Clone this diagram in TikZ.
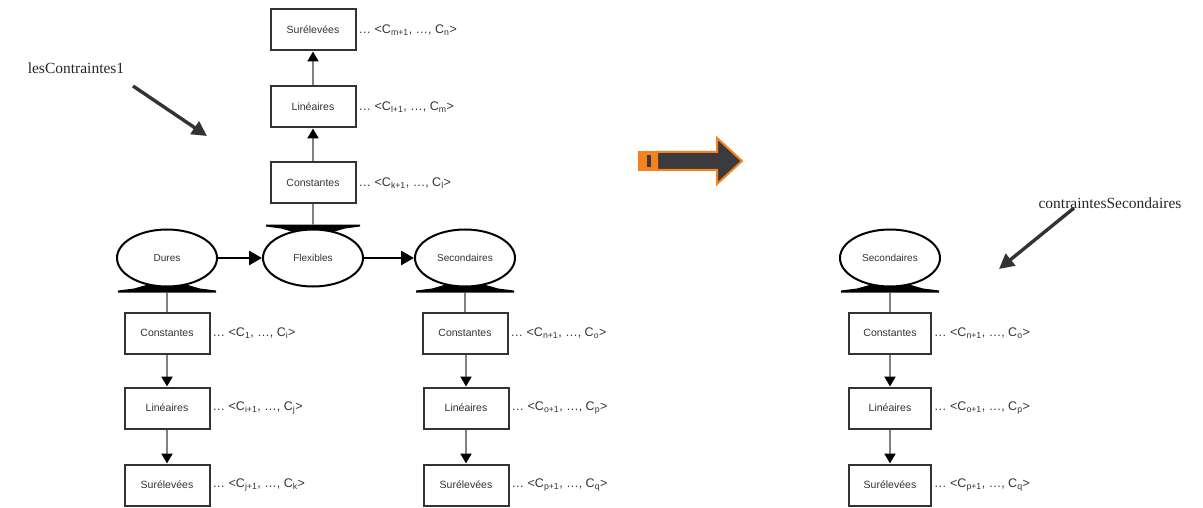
\documentclass[tikz,border=0pt]{standalone}
\usepackage{fontspec}
\setmainfont{Liberation Serif}
\newfontfamily\sansf{Liberation Sans}
\usetikzlibrary{arrows.meta,shapes.geometric,backgrounds,calc}
\definecolor{flechorange}{HTML}{F5821F}
\definecolor{flechdark}{HTML}{3B3A3F}
\tikzset{
  x=1pt, y=-1pt,
  kind/.style={ellipse, draw=black, line width=2pt, fill=white,
    minimum width=100pt, minimum height=57pt, inner sep=0pt,
    font=\sansf\fontsize{10}{12}\selectfont, text=black!80},
  cbox/.style={rectangle, draw=black!80, line width=2pt, fill=white,
    minimum width=85pt, minimum height=41pt, inner sep=0pt,
    font=\sansf\fontsize{10.5}{12}\selectfont, text=black!80},
  clist/.style={anchor=west, inner sep=0pt,
    font=\sansf\fontsize{12.5}{14}\selectfont, text=black!80},
  flow/.style={draw=black!50, line width=2.2pt,
    -{Triangle[color=black,length=10pt,width=11pt]}},
  link/.style={draw=black!50, line width=2.2pt},
  bigflow/.style={draw=black, line width=2.8pt,
    -{Triangle[length=13pt,width=14pt]}},
  pointer/.style={draw=black!80, line width=3.4pt,
    -{Triangle[length=15pt,width=15pt]}},
  note/.style={font=\fontsize{15.5}{18}\selectfont, text=black!85, inner sep=0pt},
  base/.style={fill=black}
}
\newcommand{\cseq}[2]{\ldots{} <C\textsubscript{#1}, \ldots, C\textsubscript{#2}>}
\begin{document}
\begin{tikzpicture}
\useasboundingbox (0,0) rectangle (1203,508);

% --- constraint families (left group) ---
\node[kind] (dures) at (167,258) {Dures};
\node[kind] (flex)  at (313,258) {Flexibles};
\node[kind] (sec)   at (465,258) {Secondaires};

% --- constraints of the hard family ---
\node[cbox] (dC) at (167,333) {Constantes};
\node[cbox] (dL) at (167,408) {Linéaires};
\node[cbox] (dS) at (167,485) {Surélevées};
\node[clist] (tdC) at ($(dC.east)+(2,0)$) {\cseq{1}{i}};
\node[clist] (tdL) at ($(dL.east)+(2,0)$) {\cseq{i+1}{j}};
\node[clist] (tdS) at ($(dS.east)+(2,0)$) {\cseq{j+1}{k}};

% --- constraints of the flexible family (upwards) ---
\node[cbox] (fC) at (313,183) {Constantes};
\node[cbox] (fL) at (313,107) {Linéaires};
\node[cbox] (fS) at (313,30)  {Surélevées};
\node[clist] (tfC) at ($(fC.east)+(2,0)$) {\cseq{k+1}{l}};
\node[clist] (tfL) at ($(fL.east)+(2,0)$) {\cseq{l+1}{m}};
\node[clist] (tfS) at ($(fS.east)+(2,0)$) {\cseq{m+1}{n}};

% --- constraints of the secondary family ---
\node[cbox] (sC) at (465,333) {Constantes};
\node[cbox] (sL) at (466,408) {Linéaires};
\node[cbox] (sS) at (466,485) {Surélevées};
\node[clist] (tsC) at ($(sC.east)+(2,0)$) {\cseq{n+1}{o}};
\node[clist] (tsL) at ($(sL.east)+(2,0)$) {\cseq{o+1}{p}};
\node[clist] (tsS) at ($(sS.east)+(2,0)$) {\cseq{p+1}{q}};

% --- result: secondary constraints only ---
\node[kind] (rsec) at (890,258) {Secondaires};
\node[cbox, minimum width=82pt] (rC) at (890,333) {Constantes};
\node[cbox, minimum width=82pt] (rL) at (890,408) {Linéaires};
\node[cbox, minimum width=82pt] (rS) at (890,485) {Surélevées};
\node[clist] (trC) at ($(rC.east)+(2,0)$) {\cseq{n+1}{o}};
\node[clist] (trL) at ($(rL.east)+(2,0)$) {\cseq{o+1}{p}};
\node[clist] (trS) at ($(rS.east)+(2,0)$) {\cseq{p+1}{q}};

% --- bases under / over the family ellipses ---
\begin{scope}[on background layer]
  \foreach \e in {dures,sec,rsec}{
    \fill[base] ($(\e.south)+(-49,5)$) -- ++(98,0) -- ++(0,-2)
      -- ++(-16,-2) -- ++(-14,-4) -- ++(-38,0) -- ++(-14,4)
      -- ++(-16,2) -- cycle;
  }
  \fill[base] ($(flex.north)+(-47,-4)$) -- ++(94,0) -- ++(0,2)
    -- ++(-15,2) -- ++(-14,4) -- ++(-36,0) -- ++(-14,-4)
    -- ++(-15,-2) -- cycle;
\end{scope}

% --- links between families and their constraints ---
\draw[bigflow] (dures) -- (flex);
\draw[bigflow] (flex) -- (sec);

\draw[link] ($(dures.south)+(0,5)$) -- (dC.north);
\draw[flow] (dC) -- (dL);
\draw[flow] (dL) -- (dS);

\draw[link] ($(flex.north)+(0,-4)$) -- (fC.south);
\draw[flow] (fC) -- (fL);
\draw[flow] (fL) -- (fS);

\draw[link] ($(sec.south)+(0,5)$) -- (sC.north);
\draw[flow] (sC.south -| sL.north) -- (sL);
\draw[flow] (sL) -- (sS);

\draw[link] ($(rsec.south)+(0,5)$) -- (rC.north);
\draw[flow] (rC) -- (rL);
\draw[flow] (rL) -- (rS);

% --- annotations ---
\node[note] (n1) at (76,68) {lesContraintes1};
\coordinate (n1a) at (133,86);
\coordinate (n1b) at (207,136);
\draw[pointer] (n1a) -- (n1b);

\node[note] (n2) at (1110,203) {contraintesSecondaires};
\coordinate (n2a) at (1074,208);
\coordinate (n2b) at (999,269);
\draw[pointer] (n2a) -- (n2b);

% --- transformation arrow ---
\fill[flechorange] (638,151) rectangle (657,171);
\fill[flechdark] (647,155) rectangle (651,167);
\draw[flechorange, fill=flechdark, line width=2pt, line join=miter]
  (657,152) -- (717,152) -- (717,138) -- (742,161) -- (717,184)
  -- (717,170) -- (657,170) -- cycle;
\end{tikzpicture}
\end{document}
